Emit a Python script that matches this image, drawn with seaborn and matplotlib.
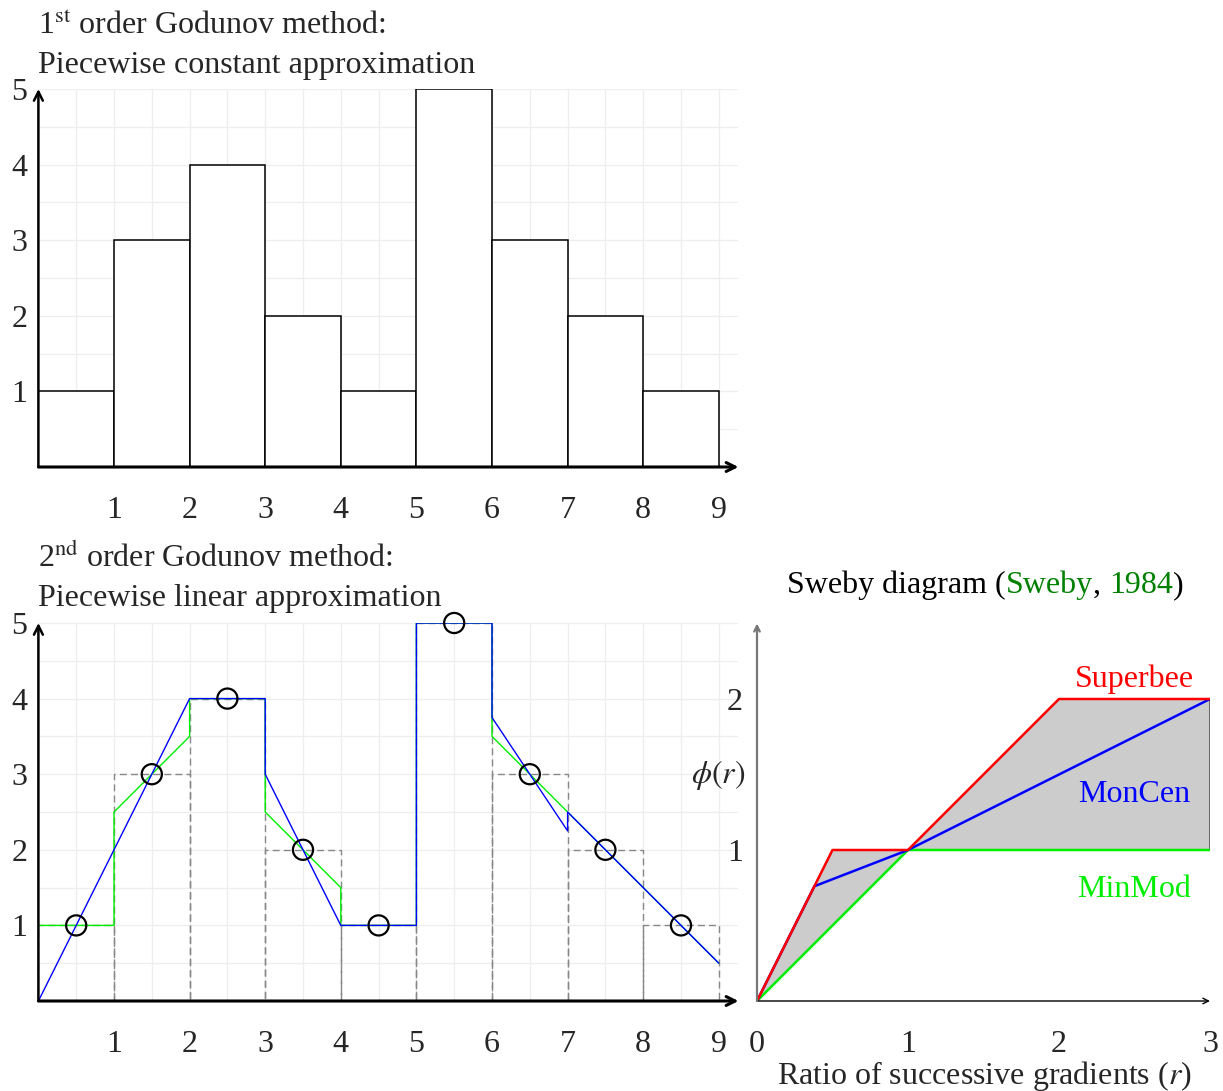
import numpy as np
import pandas as pd
import matplotlib
matplotlib.use("Agg")
import matplotlib.pyplot as plt
import seaborn as sns

# ---------------- data ----------------
cell_centers = [0.5, 1.5, 2.5, 3.5, 4.5, 5.5, 6.5, 7.5, 8.5]
cell_values = [1, 3, 4, 2, 1, 5, 3, 2, 1]
x_ticks_left = [1, 2, 3, 4, 5, 6, 7, 8, 9]
y_ticks_left = [1, 2, 3, 4, 5]

# MinMod piecewise-linear reconstruction (green)
minmod_rec_x = [0, 1, 1, 2, 2, 3, 3, 4, 4, 5, 5, 6, 6, 7, 8, 9]
minmod_rec_y = [1, 1, 2.5, 3.5, 4, 4, 2.5, 1.5, 1, 1, 5, 5, 3.5, 2.5, 1.5, 0.5]
# MonCen piecewise-linear reconstruction (blue)
moncen_rec_x = [0, 2, 3, 3, 4, 5, 5, 6, 6, 7, 7, 9]
moncen_rec_y = [0, 4, 4, 3, 1, 1, 5, 5, 3.75, 2.25, 2.5, 0.5]

# Sweby diagram limiters
superbee_r = [0, 0.5, 1, 2, 3]
superbee_phi = [0, 1, 1, 2, 2]
moncen_r = [0, 0.38, 1, 3]
moncen_phi = [0, 0.76, 1, 2]
minmod_r = [0, 1, 3]
minmod_phi = [0, 1, 1]
sweby_x_ticks = [0, 1, 2, 3]
sweby_y_ticks = [1, 2]

# ---------------- style ----------------
sns.set_style("white")
plt.rcParams["font.family"] = ["Liberation Serif", "DejaVu Serif"]
plt.rcParams["mathtext.fontset"] = "stix"
FS = 23

W, H = 1223, 1091
fig = plt.figure(figsize=(W / 100, H / 100), dpi=100)


def rect(x0, x1, ytop, ybot):
    return [x0 / W, 1 - ybot / H, (x1 - x0) / W, (ybot - ytop) / H]


def ftext(x, y, s, **kw):
    return fig.text(x / W, 1 - y / H, s, fontsize=FS, **kw)


SC = 75.6
X0 = 38.4
XMAX = 9.26


def setup_left(ax):
    ax.set_xlim(0, XMAX)
    ax.set_ylim(0, 5)
    ax.set_xticks(x_ticks_left)
    ax.set_yticks(y_ticks_left)
    ax.set_xticklabels([str(v) for v in x_ticks_left], fontsize=FS)
    ax.set_yticklabels([str(v) for v in y_ticks_left], fontsize=FS)
    ax.set_xticks(np.arange(0, 9.01, 0.5), minor=True)
    ax.set_yticks(np.arange(0, 5.01, 0.5), minor=True)
    ax.grid(which="both", color="#eeeeee", lw=0.9, zorder=0)
    ax.set_axisbelow(True)
    ax.tick_params(axis="x", which="both", length=0, pad=21)
    ax.tick_params(axis="y", which="both", length=0, pad=8)
    for s in ax.spines.values():
        s.set_visible(False)
    ax.set_xlabel("")
    ax.set_ylabel("")
    ax.annotate("", xy=(XMAX, 0), xytext=(0, 0),
                arrowprops=dict(arrowstyle="->", lw=2.2, color="black",
                                shrinkA=0, shrinkB=0, mutation_scale=16),
                annotation_clip=False, zorder=10)
    ax.annotate("", xy=(0, 5), xytext=(0, 0),
                arrowprops=dict(arrowstyle="->", lw=1.8, color="black",
                                shrinkA=0, shrinkB=0, mutation_scale=16),
                annotation_clip=False, zorder=10)


df = pd.DataFrame({"x": cell_centers, "u": cell_values})

# ---------------- top panel ----------------
ax1 = fig.add_axes(rect(X0, X0 + XMAX * SC, 89, 467))
sns.barplot(data=df, x="x", y="u", native_scale=True, width=1, orient="x",
            color="white", saturation=1, edgecolor="black", linewidth=1.1,
            errorbar=None, ax=ax1, zorder=3)
setup_left(ax1)

ftext(38, 34, r"1$^{\mathrm{st}}$ order Godunov method:", va="baseline", ha="left")
ftext(38, 73, "Piecewise constant approximation", va="baseline", ha="left")

# ---------------- bottom-left panel ----------------
ax2 = fig.add_axes(rect(X0, X0 + XMAX * SC, 623, 1001))
sns.barplot(data=df, x="x", y="u", native_scale=True, width=1, orient="x",
            color="white", saturation=1, fill=False, edgecolor="#888888",
            linewidth=1.0, linestyle=(0, (5, 3)), errorbar=None, ax=ax2,
            zorder=3)
for p in ax2.patches:
    p.set_facecolor("none")
    p.set_edgecolor("#888888")
sns.lineplot(x=minmod_rec_x, y=minmod_rec_y, sort=False, estimator=None,
             color="#00ee00", lw=1.0, ax=ax2, zorder=4)
sns.lineplot(x=moncen_rec_x, y=moncen_rec_y, sort=False, estimator=None,
             color="#0000ff", lw=1.0, ax=ax2, zorder=5)
sns.scatterplot(data=df, x="x", y="u", marker="o", s=210, facecolors="none",
                edgecolor="black", linewidth=1.6, ax=ax2, zorder=6,
                clip_on=False)
ax2.collections[-1].set_facecolor("none")
ax2.collections[-1].set_edgecolor("black")
setup_left(ax2)

ftext(38, 567, r"2$^{\mathrm{nd}}$ order Godunov method:", va="baseline", ha="left")
ftext(38, 606, "Piecewise linear approximation", va="baseline", ha="left")

# ---------------- Sweby diagram ----------------
ax3 = fig.add_axes(rect(757, 1210, 623.5, 1001))
ax3.set_xlim(0, 3)
ax3.set_ylim(0, 2.5)
ax3.fill(superbee_r + minmod_r[::-1], superbee_phi + minmod_phi[::-1],
         facecolor="#cccccc", edgecolor="#555555", lw=1.2, zorder=1)
sns.lineplot(x=minmod_r, y=minmod_phi, sort=False, estimator=None,
             color="#00ee00", lw=1.8, ax=ax3, zorder=3)
sns.lineplot(x=moncen_r, y=moncen_phi, sort=False, estimator=None,
             color="#0000ff", lw=1.8, ax=ax3, zorder=4)
sns.lineplot(x=superbee_r, y=superbee_phi, sort=False, estimator=None,
             color="#ff0000", lw=1.8, ax=ax3, zorder=5)
for s in ax3.spines.values():
    s.set_visible(False)
ax3.set_xlabel("")
ax3.set_ylabel("")
ax3.set_xticks(sweby_x_ticks)
ax3.set_xticklabels([str(v) for v in sweby_x_ticks], fontsize=FS)
ax3.set_yticks(sweby_y_ticks)
ax3.set_yticklabels([str(v) for v in sweby_y_ticks], fontsize=FS)
ax3.tick_params(axis="x", length=0, pad=21)
ax3.tick_params(axis="y", length=0, pad=10)
ax3.grid(False)
ax3.annotate("", xy=(3.0, 0), xytext=(0, 0),
             arrowprops=dict(arrowstyle="->", lw=1.0, color="black",
                             shrinkA=0, shrinkB=0, mutation_scale=10),
             annotation_clip=False, zorder=10)
ax3.annotate("", xy=(0, 2.5), xytext=(0, 0),
             arrowprops=dict(arrowstyle="->", lw=1.6, color="#777777",
                             shrinkA=0, shrinkB=0, mutation_scale=10),
             annotation_clip=False, zorder=10)
ax3.text(2.5, 2.13, "Superbee", color="#ff0000", fontsize=FS, ha="center", va="center")
ax3.text(2.5, 1.37, "MonCen", color="#0000ff", fontsize=FS, ha="center", va="center")
ax3.text(2.5, 0.74, "MinMod", color="#00ee00", fontsize=FS, ha="center", va="center")
ax3.annotate(r"$\phi(r)$", xy=(0, 1.5), xycoords="data", xytext=(-12, 0),
             textcoords="offset pixels", ha="right", va="center", fontsize=FS,
             annotation_clip=False)

ftext(984, 1076, r"Ratio of successive gradients ($r$)", ha="center", va="center")

# multi-coloured Sweby title, pieces chained one after another
parts = [("Sweby diagram (", "black"), ("Sweby", "#008000"), (", ", "black"),
         ("1984", "#008000"), (")", "black")]
prev = ftext(787, 593, parts[0][0], color=parts[0][1], ha="left", va="baseline")
for s, c in parts[1:]:
    prev = fig.add_artist(matplotlib.text.Annotation(
        s, xy=(1, 0), xycoords=prev, color=c, fontsize=FS,
        va="bottom", ha="left"))

fig.savefig("out.png", dpi=100)
